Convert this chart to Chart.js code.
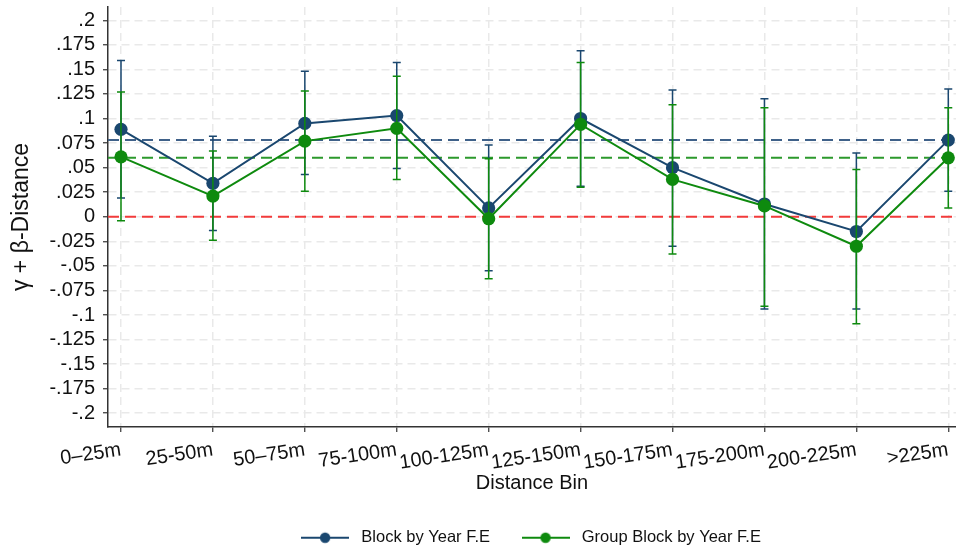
<!DOCTYPE html>
<html><head><meta charset="utf-8">
<script src="https://cdn.jsdelivr.net/npm/chart.js@4/dist/chart.umd.min.js"></script>
<style>html,body{margin:0;padding:0;background:#fff}</style>
</head><body>
<canvas id="c" width="956" height="552"></canvas>
<script>
// ---- data ----
const categories = ['0–25m','25-50m','50–75m','75-100m','100-125m','125-150m','150-175m','175-200m','200-225m','>225m'];
const blockEst  = [0.089, 0.034, 0.095, 0.103, 0.009, 0.100, 0.050, 0.013, -0.015, 0.078];
const blockLow  = [0.019, -0.014, 0.043, 0.049, -0.055, 0.031, -0.030, -0.094, -0.094, 0.026];
const blockHigh = [0.159, 0.082, 0.148, 0.157, 0.073, 0.169, 0.129, 0.120, 0.065, 0.130];
const groupEst  = [0.061, 0.021, 0.077, 0.090, -0.002, 0.094, 0.038, 0.011, -0.030, 0.060];
const groupLow  = [-0.004, -0.024, 0.026, 0.038, -0.063, 0.030, -0.038, -0.091, -0.109, 0.009];
const groupHigh = [0.127, 0.067, 0.128, 0.143, 0.059, 0.157, 0.114, 0.111, 0.048, 0.111];
const blockMean = 0.078;
const groupMean = 0.060;
const zeroLine = 0;
const yTicks = [-0.2,-0.175,-0.15,-0.125,-0.1,-0.075,-0.05,-0.025,0,0.025,0.05,0.075,0.1,0.125,0.15,0.175,0.2];
const seriesNames = ['Block by Year F.E', 'Group Block by Year F.E'];

// ---- styling ----
const NAVY = '#1a476f';
const GREEN = '#0e8a0e';
const FONT = "'Liberation Sans', Arial, Helvetica, sans-serif";
const X_MIN = -0.1414, X_MAX = 9.084;
const Y_MIN = -0.214, Y_MAX = 0.2135;

const toPts = arr => arr.map((v, i) => ({x: i, y: v}));
const hline = v => [{x: X_MIN, y: v}, {x: X_MAX, y: v}];

function fmtTick(v) {
  if (Math.abs(v) < 1e-9) return '0';
  let s = Math.abs(v).toFixed(3).replace(/0+$/, '').replace(/^0/, '');
  return (v < 0 ? '-' : '') + s;
}

function legendIcon(color) {
  const c = document.createElement('canvas');
  c.width = 48; c.height = 14;
  const g = c.getContext('2d');
  g.strokeStyle = color; g.lineWidth = 1.8;
  g.beginPath(); g.moveTo(0, 7); g.lineTo(48, 7); g.stroke();
  g.fillStyle = color;
  g.beginPath(); g.arc(24, 7, 5.2, 0, Math.PI * 2); g.fill();
  return c;
}

const errorBars = {
  id: 'errorBars',
  beforeDatasetDraw(chart, args) {
    const ds = chart.data.datasets[args.index];
    if (!ds.errLow) return;
    const {ctx, scales: {x, y}} = chart;
    ctx.save();
    ctx.strokeStyle = ds.borderColor;
    ctx.lineWidth = 1.5;
    ds.data.forEach((p, i) => {
      const px = x.getPixelForValue(p.x);
      const yl = y.getPixelForValue(ds.errLow[i]);
      const yh = y.getPixelForValue(ds.errHigh[i]);
      ctx.beginPath();
      ctx.moveTo(px, yl); ctx.lineTo(px, yh);
      ctx.moveTo(px - 4, yl); ctx.lineTo(px + 4, yl);
      ctx.moveTo(px - 4, yh); ctx.lineTo(px + 4, yh);
      ctx.stroke();
    });
    ctx.restore();
  }
};

const shiftLegend = {
  id: 'shiftLegend',
  afterLayout(chart) {
    const lg = chart.legend;
    if (lg) { lg.top += 4; lg.bottom += 4; lg.left -= 3; lg.right -= 3; }
  }
};

const gridCommon = {
  color: '#e9e9e9', lineWidth: 1.5,
  drawTicks: true, tickLength: 5, tickColor: '#333', tickWidth: 1.2
};

new Chart(document.getElementById('c'), {
  type: 'line',
  data: {
    datasets: [
      { label: seriesNames[1], data: toPts(groupEst), errLow: groupLow, errHigh: groupHigh,
        borderColor: GREEN, backgroundColor: GREEN, pointBackgroundColor: GREEN, pointBorderColor: GREEN,
        borderWidth: 2, pointRadius: 6.6, pointBorderWidth: 0, order: 1 },
      { label: seriesNames[0], data: toPts(blockEst), errLow: blockLow, errHigh: blockHigh,
        borderColor: NAVY, backgroundColor: NAVY, pointBackgroundColor: NAVY, pointBorderColor: NAVY,
        borderWidth: 2, pointRadius: 6.6, pointBorderWidth: 0, order: 2 },
      { label: 'blockMean', data: hline(blockMean), borderColor: '#3f6189', borderWidth: 2,
        borderDash: [11, 6], pointRadius: 0, order: 5 },
      { label: 'groupMean', data: hline(groupMean), borderColor: '#2c992c', borderWidth: 2,
        borderDash: [11, 6], pointRadius: 0, order: 6 },
      { label: 'zero', data: hline(zeroLine), borderColor: '#f23b3b', borderWidth: 2,
        borderDash: [11, 6], pointRadius: 0, order: 7 }
    ]
  },
  options: {
    responsive: false,
    animation: false,
    layout: { autoPadding: false, padding: { left: 0, right: 0, top: 7, bottom: 0 } },
    plugins: {
      tooltip: { enabled: false },
      legend: {
        position: 'bottom',
        fullSize: false,
        labels: {
          usePointStyle: true,
          pointStyleWidth: 56,
          padding: 27.5,
          color: '#111',
          font: { family: FONT, size: 16.5 },
          generateLabels: () => [
            { text: seriesNames[0], pointStyle: legendIcon(NAVY), fillStyle: NAVY, strokeStyle: NAVY, lineWidth: 0, hidden: false, datasetIndex: 1, fontColor: '#111' },
            { text: seriesNames[1], pointStyle: legendIcon(GREEN), fillStyle: GREEN, strokeStyle: GREEN, lineWidth: 0, hidden: false, datasetIndex: 0, fontColor: '#111' }
          ]
        }
      }
    },
    scales: {
      x: {
        type: 'linear', position: 'bottom',
        min: X_MIN, max: X_MAX,
        afterBuildTicks: s => { s.ticks = categories.map((_, i) => ({value: i})); },
        afterFit: s => { s.height = 71; s.paddingLeft = 0; s.paddingRight = 0; },
        ticks: {
          autoSkip: false, minRotation: 8.5, maxRotation: 8.5, padding: 6,
          color: '#111', font: { family: FONT, size: 20 },
          callback: v => categories[v]
        },
        grid: gridCommon,
        border: { display: true, color: '#333', width: 1.5, dash: [8, 5] },
        title: { display: true, text: 'Distance Bin', color: '#111',
                 font: { family: FONT, size: 20 }, padding: { top: 4, bottom: 3 } }
      },
      y: {
        type: 'linear', position: 'left',
        min: Y_MIN, max: Y_MAX,
        afterBuildTicks: s => { s.ticks = yTicks.map(v => ({value: v})); },
        afterFit: s => { s.width = 108; s.paddingTop = 0; s.paddingBottom = 0; },
        ticks: {
          autoSkip: false, padding: 8, color: '#111', font: { family: FONT, size: 20 },
          callback: v => fmtTick(v)
        },
        grid: gridCommon,
        border: { display: true, color: '#333', width: 1.5, dash: [8, 5] },
        title: { display: true, text: 'γ + β-Distance', color: '#111',
                 font: { family: FONT, size: 23 }, padding: { top: 8, bottom: 4 } }
      }
    }
  },
  plugins: [errorBars, shiftLegend]
});
</script>
</body></html>
